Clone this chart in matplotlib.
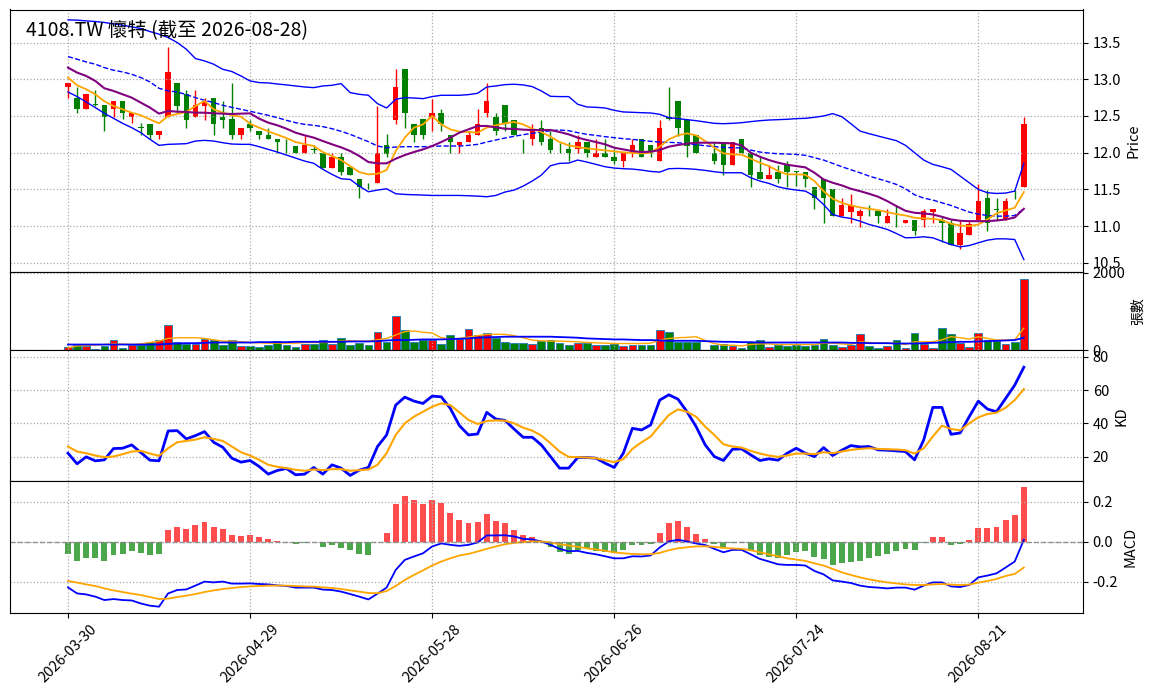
import numpy as np
import pandas as pd
import matplotlib
matplotlib.use("Agg")
import matplotlib.pyplot as plt
from matplotlib.ticker import FormatStrFormatter, FixedLocator

plt.rcParams['font.family'] = ['Noto Sans CJK TC', 'DejaVu Sans']

# trading days (TWSE holidays removed)
holidays = ['2026-04-03', '2026-04-06', '2026-05-01', '2026-06-19']
dates = [d for d in pd.bdate_range('2026-03-30', '2026-08-28')
         if d.strftime('%Y-%m-%d') not in holidays]
date_labels = [d.strftime('%Y-%m-%d') for d in dates]

open_ = [12.90, 12.75, 12.60, 12.66, 12.645, 12.60, 12.70, 12.49, 12.345, 12.395,
         12.24, 12.49, 12.945, 12.795, 12.49, 12.635, 12.75, 12.49, 12.455, 12.24,
         12.395, 12.295, 12.24, 12.19, 12.15, 12.09, 11.99, 12.05, 11.99, 11.79,
         11.945, 11.80, 11.645, 11.545, 11.59, 12.10, 12.445, 13.145, 12.395, 12.455,
         12.49, 12.545, 12.24, 12.10, 12.145, 12.245, 12.545, 12.49, 12.645, 12.445,
         12.19, 12.19, 12.34, 12.19, 12.00, 12.045, 12.045, 12.145, 11.945, 11.99,
         11.945, 11.885, 11.99, 12.19, 12.10, 11.885, 12.49, 12.70, 12.445, 12.245,
         11.995, 11.99, 12.145, 11.835, 12.19, 11.99, 11.74, 11.645, 11.74, 11.835,
         11.745, 11.74, 11.535, 11.645, 11.50, 11.135, 11.19, 11.135, 11.205, 11.20,
         11.045, 11.14, 11.045, 11.09, 11.09, 11.19, 11.09, 11.045, 10.745, 10.885,
         11.08, 11.385, 11.23, 11.08, 11.385, 11.535]
high = [12.95, 12.90, 12.80, 12.85, 12.645, 12.70, 12.70, 12.545, 12.40, 12.395,
        12.30, 13.445, 12.945, 12.85, 12.85, 12.75, 12.75, 12.70, 12.945, 12.34,
        12.445, 12.295, 12.34, 12.19, 12.19, 12.09, 12.235, 12.10, 11.99, 11.99,
        11.99, 11.80, 11.645, 11.59, 12.64, 12.25, 13.145, 13.145, 12.395, 12.455,
        12.73, 12.60, 12.24, 12.145, 12.295, 12.60, 12.945, 12.545, 12.645, 12.445,
        12.19, 12.395, 12.445, 12.295, 12.135, 12.145, 12.245, 12.145, 12.19, 12.19,
        12.045, 11.99, 12.19, 12.19, 12.10, 12.445, 12.90, 12.70, 12.445, 12.245,
        11.995, 12.145, 12.145, 12.145, 12.19, 11.99, 11.945, 11.835, 11.835, 11.885,
        11.745, 11.74, 11.535, 11.645, 11.50, 11.38, 11.44, 11.235, 11.29, 11.20,
        11.235, 11.29, 11.09, 11.09, 11.235, 11.235, 11.135, 11.09, 11.09, 11.09,
        11.57, 11.49, 11.385, 11.385, 11.49, 12.49]
low = [12.75, 12.545, 12.60, 12.64, 12.30, 12.49, 12.455, 12.40, 12.24, 12.19,
       12.19, 12.49, 12.545, 12.34, 12.49, 12.445, 12.24, 12.34, 12.19, 12.19,
       12.295, 12.19, 12.19, 12.00, 11.99, 11.99, 11.99, 11.99, 11.79, 11.79,
       11.69, 11.69, 11.39, 11.50, 11.59, 11.945, 12.395, 12.34, 12.145, 12.19,
       12.295, 12.295, 11.99, 11.99, 12.145, 12.245, 12.49, 12.245, 12.295, 12.245,
       11.99, 12.10, 12.10, 11.99, 11.99, 11.885, 11.99, 11.945, 11.945, 11.945,
       11.84, 11.80, 11.945, 11.945, 11.945, 11.885, 12.445, 12.225, 11.945, 11.99,
       11.99, 11.84, 11.69, 11.835, 11.99, 11.535, 11.645, 11.645, 11.59, 11.535,
       11.545, 11.535, 11.235, 11.045, 11.135, 11.135, 11.045, 10.99, 11.135, 11.045,
       11.045, 10.99, 11.045, 10.885, 10.99, 11.045, 10.79, 10.745, 10.69, 10.885,
       11.08, 10.935, 11.09, 11.08, 11.365, 11.535]
close = [12.945, 12.60, 12.795, 12.65, 12.49, 12.70, 12.545, 12.545, 12.34, 12.24,
         12.295, 13.10, 12.635, 12.445, 12.645, 12.70, 12.395, 12.445, 12.24, 12.34,
         12.34, 12.24, 12.19, 12.145, 12.145, 11.99, 12.10, 12.04, 11.79, 11.945,
         11.735, 11.69, 11.535, 11.54, 11.99, 11.98, 12.90, 12.545, 12.24, 12.24,
         12.545, 12.395, 12.145, 12.145, 12.245, 12.395, 12.70, 12.295, 12.395, 12.245,
         12.185, 12.295, 12.145, 12.035, 11.99, 11.99, 12.145, 11.99, 11.99, 11.945,
         11.885, 11.99, 12.10, 11.945, 11.99, 12.34, 12.455, 12.34, 12.09, 11.99,
         11.99, 11.885, 11.835, 12.145, 11.99, 11.69, 11.645, 11.69, 11.645, 11.74,
         11.74, 11.645, 11.38, 11.38, 11.135, 11.29, 11.29, 11.20, 11.20, 11.135,
         11.135, 11.135, 11.09, 10.935, 11.20, 11.235, 11.045, 10.745, 10.90, 11.035,
         11.345, 11.045, 11.22, 11.345, 11.38, 12.395]

ma5 = [13.023, 12.918, 12.864, 12.795, 12.70, 12.636, 12.591, 12.545, 12.509, 12.455,
       12.40, 12.50, 12.527, 12.555, 12.636, 12.705, 12.591, 12.545, 12.509, 12.491,
       12.395, 12.341, 12.291, 12.245, 12.20, 12.145, 12.118, 12.091, 12.009, 11.955,
       11.90, 11.818, 11.736, 11.705, 11.714, 11.764, 12.023, 12.205, 12.341, 12.386,
       12.50, 12.386, 12.318, 12.286, 12.282, 12.273, 12.341, 12.373, 12.40, 12.418,
       12.386, 12.327, 12.282, 12.218, 12.145, 12.10, 12.077, 12.059, 12.045, 12.032,
       12.018, 12.005, 11.995, 11.991, 12.00, 12.082, 12.182, 12.236, 12.264, 12.236,
       12.159, 12.068, 11.991, 11.977, 11.973, 11.918, 11.864, 11.818, 11.75, 11.705,
       11.705, 11.70, 11.614, 11.477, 11.373, 11.318, 11.282, 11.255, 11.236, 11.218,
       11.191, 11.164, 11.145, 11.114, 11.105, 11.10, 11.082, 11.032, 11.009, 11.00,
       11.023, 11.091, 11.173, 11.214, 11.25, 11.464]
ma10 = [13.159, 13.091, 13.045, 12.977, 12.877, 12.841, 12.795, 12.75, 12.682, 12.614,
        12.532, 12.568, 12.559, 12.555, 12.545, 12.545, 12.536, 12.532, 12.527, 12.532,
        12.536, 12.464, 12.409, 12.373, 12.327, 12.273, 12.236, 12.205, 12.159, 12.114,
        12.073, 12.023, 11.955, 11.873, 11.855, 11.855, 11.918, 11.968, 12.009, 12.045,
        12.091, 12.145, 12.205, 12.273, 12.318, 12.364, 12.364, 12.345, 12.327, 12.323,
        12.314, 12.309, 12.309, 12.309, 12.282, 12.25, 12.205, 12.173, 12.145, 12.114,
        12.068, 12.045, 12.023, 12.009, 12.014, 12.036, 12.082, 12.105, 12.123, 12.136,
        12.136, 12.136, 12.132, 12.127, 12.10, 12.00, 11.945, 11.90, 11.864, 11.836,
        11.818, 11.80, 11.727, 11.636, 11.591, 11.555, 11.509, 11.477, 11.441, 11.40,
        11.341, 11.273, 11.209, 11.182, 11.173, 11.159, 11.127, 11.091, 11.073, 11.068,
        11.068, 11.068, 11.077, 11.091, 11.118, 11.236]
bb_up = [13.809, 13.805, 13.795, 13.786, 13.773, 13.755, 13.736, 13.714, 13.691, 13.65,
         13.614, 13.568, 13.50, 13.409, 13.282, 13.25, 13.205, 13.136, 13.105, 13.045,
         12.977, 12.955, 12.95, 12.936, 12.923, 12.909, 12.895, 12.886, 12.909, 12.918,
         12.941, 12.818, 12.795, 12.782, 12.668, 12.609, 12.727, 12.75, 12.745, 12.736,
         12.764, 12.782, 12.782, 12.782, 12.791, 12.809, 12.895, 12.909, 12.927, 12.932,
         12.923, 12.90, 12.841, 12.768, 12.764, 12.764, 12.659, 12.623, 12.618, 12.609,
         12.577, 12.555, 12.55, 12.545, 12.541, 12.523, 12.477, 12.464, 12.45, 12.436,
         12.418, 12.40, 12.395, 12.40, 12.409, 12.423, 12.436, 12.445, 12.45, 12.455,
         12.464, 12.468, 12.482, 12.50, 12.532, 12.491, 12.395, 12.295, 12.259, 12.227,
         12.195, 12.164, 12.10, 12.00, 11.90, 11.841, 11.809, 11.773, 11.682, 11.591,
         11.50, 11.455, 11.445, 11.45, 11.477, 11.855]
bb_mid = [13.309, 13.273, 13.236, 13.205, 13.159, 13.123, 13.10, 13.068, 13.023, 12.964,
          12.877, 12.841, 12.827, 12.791, 12.75, 12.714, 12.682, 12.645, 12.618, 12.591,
          12.564, 12.536, 12.509, 12.477, 12.441, 12.409, 12.386, 12.373, 12.355, 12.327,
          12.291, 12.25, 12.20, 12.15, 12.091, 12.068, 12.077, 12.082, 12.082, 12.082,
          12.086, 12.091, 12.091, 12.091, 12.10, 12.114, 12.145, 12.173, 12.20, 12.223,
          12.245, 12.264, 12.282, 12.30, 12.309, 12.30, 12.273, 12.25, 12.236, 12.218,
          12.205, 12.191, 12.182, 12.168, 12.155, 12.145, 12.141, 12.136, 12.123, 12.109,
          12.095, 12.082, 12.073, 12.068, 12.064, 12.036, 12.009, 11.995, 11.986, 11.982,
          11.977, 11.964, 11.932, 11.90, 11.855, 11.809, 11.768, 11.727, 11.682, 11.645,
          11.609, 11.568, 11.509, 11.427, 11.382, 11.355, 11.318, 11.282, 11.236, 11.191,
          11.164, 11.145, 11.136, 11.136, 11.145, 11.236]
bb_low = [12.827, 12.764, 12.691, 12.614, 12.536, 12.468, 12.40, 12.341, 12.273, 12.182,
          12.10, 12.114, 12.118, 12.123, 12.159, 12.168, 12.159, 12.136, 12.118, 12.114,
          12.114, 12.082, 12.045, 12.009, 11.968, 11.927, 11.886, 11.855, 11.773, 11.705,
          11.645, 11.636, 11.545, 11.468, 11.491, 11.509, 11.441, 11.432, 11.427, 11.423,
          11.418, 11.418, 11.418, 11.418, 11.414, 11.409, 11.40, 11.418, 11.464, 11.491,
          11.545, 11.614, 11.695, 11.823, 11.855, 11.859, 11.90, 11.873, 11.841, 11.809,
          11.791, 11.782, 11.777, 11.764, 11.745, 11.736, 11.782, 11.786, 11.782, 11.773,
          11.759, 11.741, 11.727, 11.727, 11.727, 11.659, 11.614, 11.582, 11.536, 11.509,
          11.491, 11.477, 11.409, 11.295, 11.159, 11.123, 11.105, 11.068, 11.023, 10.991,
          10.955, 10.90, 10.841, 10.845, 10.855, 10.841, 10.795, 10.75, 10.718, 10.736,
          10.773, 10.809, 10.827, 10.827, 10.818, 10.545]

volume = [88, 131, 114, 44, 114, 254, 61, 131, 131, 219,
          254, 656, 219, 166, 175, 289, 254, 131, 271, 114,
          114, 79, 149, 245, 140, 88, 175, 175, 271, 166,
          324, 131, 184, 131, 481, 219, 893, 525, 219, 254,
          271, 166, 394, 289, 551, 394, 446, 324, 219, 184,
          184, 158, 236, 271, 201, 131, 201, 201, 149, 149,
          175, 123, 149, 149, 131, 534, 481, 219, 219, 219,
          0, 131, 166, 105, 61, 219, 254, 79, 131, 114,
          131, 114, 131, 289, 131, 79, 131, 429, 114, 61,
          114, 254, 61, 455, 166, 61, 586, 429, 184, 79,
          455, 271, 236, 166, 219, 1838]
vol_ma5 = [61, 114, 123, 140, 149, 166, 158, 149, 166, 201,
           236, 306, 324, 324, 324, 306, 271, 236, 236, 219,
           201, 193, 184, 184, 184, 184, 201, 201, 201, 210,
           236, 245, 236, 236, 271, 306, 394, 481, 499, 464,
           446, 324, 289, 306, 341, 376, 411, 411, 411, 376,
           324, 263, 245, 236, 236, 228, 219, 201, 193, 184,
           175, 175, 175, 175, 184, 263, 306, 324, 333, 350,
           254, 175, 131, 131, 114, 149, 166, 166, 149, 149,
           149, 149, 149, 184, 184, 166, 149, 219, 201, 184,
           184, 184, 149, 219, 219, 219, 271, 350, 324, 289,
           350, 306, 263, 263, 271, 569]
vol_ma20 = [149, 149, 149, 149, 149, 149, 149, 149, 149, 149,
            149, 166, 175, 184, 184, 193, 201, 201, 201, 201,
            201, 210, 210, 210, 210, 219, 219, 219, 219, 219,
            219, 228, 228, 228, 236, 254, 263, 263, 271, 280,
            280, 280, 289, 298, 306, 324, 333, 341, 350, 350,
            350, 350, 350, 350, 341, 333, 324, 306, 298, 289,
            280, 280, 271, 263, 263, 254, 245, 245, 245, 245,
            236, 228, 219, 219, 210, 210, 201, 201, 201, 201,
            201, 201, 201, 201, 201, 201, 193, 193, 184, 184,
            184, 175, 175, 175, 184, 193, 201, 210, 219, 219,
            228, 236, 245, 254, 263, 324]

k_line = [22, 15.6, 19.8, 17.4, 18, 24.8, 25, 27, 22.4, 17.8,
          17.4, 35.4, 35.6, 30.6, 32.6, 35, 28.6, 25.6, 19, 16.6,
          17.6, 14, 9.4, 11.6, 12.8, 9, 9.4, 13.4, 9.4, 15,
          13, 8.6, 11.8, 13.4, 26, 33, 51, 55.8, 53.4, 52,
          56.4, 56, 49, 38.6, 33, 33.6, 46.6, 42.6, 41.8, 36.6,
          31.6, 31.6, 27, 20, 13, 13, 19.4, 19.4, 19, 16,
          13.4, 22, 37, 36, 39, 54, 57.2, 54.6, 47, 38,
          27, 20, 17.6, 24.4, 24.6, 21, 17.6, 18.6, 17.8, 22,
          25, 22, 20, 25.4, 20.6, 23.8, 26.6, 25.8, 26, 24,
          23.8, 23.4, 23, 18, 30, 49.6, 49.6, 33.4, 34.2, 44,
          53.4, 48.6, 47, 55, 63, 73.8]
d_line = [26, 23, 22, 20.6, 19.6, 20, 21.4, 23, 23.4, 21.8,
          20.4, 25, 28.6, 29.4, 30.2, 31.6, 30.6, 29.4, 26, 22.6,
          20.6, 18, 15, 13.8, 13, 12, 11.4, 12.2, 11.8, 12.4,
          12.4, 11.4, 11.8, 12.2, 15, 22, 33, 40, 44, 47,
          50, 52, 51, 46.6, 42, 39.6, 41.4, 41.8, 41.6, 40,
          37.4, 35.6, 32.6, 28, 23, 19.8, 19.6, 19.4, 19, 17.8,
          16.6, 18.4, 24.6, 28.6, 32, 38.6, 45, 48.4, 47, 44,
          38, 33, 27.4, 26, 25.4, 23.4, 21.8, 20.6, 19.8, 20.6,
          21.8, 21.8, 21.4, 22.6, 22, 23, 24, 24.6, 25, 24.6,
          24.4, 24.2, 23.8, 21.8, 25, 32, 38.6, 36.6, 35.8, 40,
          43.6, 45.6, 46.4, 49.4, 54, 60.6]

dif = [-0.227, -0.257, -0.262, -0.273, -0.29, -0.285, -0.29, -0.292, -0.307, -0.318,
       -0.323, -0.257, -0.24, -0.237, -0.218, -0.198, -0.202, -0.198, -0.208, -0.208,
       -0.207, -0.21, -0.212, -0.217, -0.22, -0.228, -0.228, -0.228, -0.238, -0.24,
       -0.248, -0.26, -0.273, -0.287, -0.258, -0.228, -0.14, -0.09, -0.073, -0.057,
       -0.023, -0.008, -0.015, -0.02, -0.015, -0.003, 0.032, 0.032, 0.033, 0.027,
       0.015, 0.012, 0.002, -0.015, -0.035, -0.047, -0.045, -0.055, -0.062, -0.072,
       -0.082, -0.082, -0.072, -0.073, -0.068, -0.028, 0.002, 0.01, 0.002, -0.008,
       -0.016, -0.035, -0.052, -0.04, -0.04, -0.062, -0.085, -0.098, -0.112, -0.115,
       -0.115, -0.118, -0.145, -0.162, -0.192, -0.198, -0.205, -0.218, -0.225, -0.228,
       -0.232, -0.228, -0.228, -0.238, -0.218, -0.202, -0.202, -0.222, -0.225, -0.215,
       -0.177, -0.168, -0.157, -0.128, -0.098, 0.01]
dea = [-0.195, -0.203, -0.212, -0.22, -0.232, -0.242, -0.25, -0.258, -0.265, -0.275,
       -0.285, -0.283, -0.275, -0.268, -0.26, -0.25, -0.242, -0.235, -0.23, -0.225,
       -0.222, -0.22, -0.218, -0.218, -0.218, -0.22, -0.222, -0.223, -0.227, -0.23,
       -0.235, -0.242, -0.248, -0.255, -0.256, -0.245, -0.22, -0.19, -0.165, -0.142,
       -0.118, -0.098, -0.082, -0.068, -0.06, -0.048, -0.035, -0.023, -0.012, -0.005,
       -0.002, 0.002, 0.002, -0.003, -0.012, -0.018, -0.025, -0.032, -0.038, -0.045,
       -0.052, -0.057, -0.06, -0.062, -0.062, -0.055, -0.042, -0.032, -0.027, -0.023,
       -0.022, -0.025, -0.03, -0.033, -0.035, -0.042, -0.052, -0.062, -0.072, -0.082,
       -0.088, -0.095, -0.107, -0.118, -0.135, -0.152, -0.165, -0.177, -0.187, -0.195,
       -0.202, -0.207, -0.212, -0.215, -0.215, -0.212, -0.21, -0.213, -0.215, -0.213,
       -0.203, -0.195, -0.185, -0.17, -0.16, -0.128]
macd_hist = [-0.062, -0.093, -0.082, -0.082, -0.093, -0.068, -0.062, -0.048, -0.058, -0.068,
             -0.062, 0.057, 0.072, 0.062, 0.082, 0.097, 0.072, 0.062, 0.032, 0.027,
             0.032, 0.022, 0.012, 0.002, -0.002, -0.012, -0.007, -0.002, -0.027, -0.017,
             -0.032, -0.043, -0.062, -0.068, -0.002, 0.043, 0.187, 0.227, 0.207, 0.187,
             0.207, 0.192, 0.142, 0.107, 0.092, 0.097, 0.137, 0.102, 0.092, 0.057,
             0.032, 0.022, 0.0, -0.025, -0.052, -0.062, -0.043, -0.032, -0.048, -0.052,
             -0.055, -0.042, -0.015, -0.015, -0.01, 0.043, 0.092, 0.102, 0.072, 0.038,
             0.012, -0.012, -0.027, -0.007, -0.007, -0.045, -0.068, -0.078, -0.082, -0.068,
             -0.052, -0.048, -0.078, -0.087, -0.115, -0.107, -0.098, -0.093, -0.082, -0.073,
             -0.062, -0.048, -0.037, -0.043, -0.007, 0.022, 0.022, -0.017, -0.012, 0.007,
             0.067, 0.067, 0.072, 0.107, 0.132, 0.272]

x = np.arange(len(dates))
o = np.array(open_)
c = np.array(close)
up = c >= o
candle_col = np.where(up, 'red', 'green')

fig = plt.figure(figsize=(11.56, 6.98), dpi=100)
gs = fig.add_gridspec(4, 1, height_ratios=[4, 1.2, 2, 2], hspace=0,
                      left=10 / 1156, right=1083 / 1156,
                      top=1 - 9.5 / 698, bottom=1 - 612.5 / 698)
ax1 = fig.add_subplot(gs[0])
ax2 = fig.add_subplot(gs[1], sharex=ax1)
ax3 = fig.add_subplot(gs[2], sharex=ax1)
ax4 = fig.add_subplot(gs[3], sharex=ax1)

# price panel
ax1.vlines(x, low, high, colors=candle_col, linewidth=1)
body = np.maximum(np.abs(c - o), 0.006)
ax1.bar(x, body, bottom=np.minimum(o, c), width=0.6, color=candle_col)
ax1.plot(x, bb_up, color='blue', lw=1)
ax1.plot(x, bb_mid, color='blue', lw=1, ls='--')
ax1.plot(x, bb_low, color='blue', lw=1)
ax1.plot(x, ma5, color='orange', lw=1.3)
ax1.plot(x, ma10, color='purple', lw=1.5)
ax1.set_ylim(10.38, 13.95)
ax1.yaxis.set_major_locator(FixedLocator([10.5, 11.0, 11.5, 12.0, 12.5, 13.0, 13.5]))
ax1.yaxis.set_major_formatter(FormatStrFormatter('%.1f'))
ax1.set_ylabel('Price', fontsize=10.5)
ax1.text(0.015, 0.96, '4108.TW 懷特 (截至 2026-08-28)', transform=ax1.transAxes,
         fontsize=14, va='top', ha='left')

# volume panel
ax2.bar(x, volume, width=0.85, color=candle_col, edgecolor='#2f7fb0', linewidth=0.7)
ax2.plot(x, vol_ma5, color='orange', lw=1)
ax2.plot(x, vol_ma20, color='blue', lw=1.3)
ax2.set_ylim(0, max(volume) * 1.1)
ax2.yaxis.set_major_locator(FixedLocator([0, 2000]))
ax2.set_ylabel('張數', fontsize=10)

# KD panel
ax3.plot(x, k_line, color='blue', lw=2)
ax3.plot(x, d_line, color='orange', lw=1.5)
ax3.set_ylim(5, 84)
ax3.yaxis.set_major_locator(FixedLocator([20, 40, 60, 80]))
ax3.set_ylabel('KD', fontsize=10.5)

# MACD panel
hist = np.array(macd_hist)
ax4.bar(x, hist, width=0.65, color=np.where(hist >= 0, 'red', 'green'), alpha=0.7)
ax4.plot(x, dif, color='blue', lw=1.3)
ax4.plot(x, dea, color='orange', lw=1.3)
ax4.axhline(0, color='gray', lw=1, ls='--', alpha=0.8)
ax4.set_ylim(-0.352, 0.301)
ax4.yaxis.set_major_locator(FixedLocator([-0.2, 0.0, 0.2]))
ax4.yaxis.set_major_formatter(FormatStrFormatter('%.1f'))
ax4.set_ylabel('MACD', fontsize=10.5)

tick_idx = list(range(0, len(dates), 20))
for ax in (ax1, ax2, ax3, ax4):
    ax.yaxis.tick_right()
    ax.yaxis.set_label_position('right')
    ax.grid(True, linestyle=':', color='#aaaaaa', linewidth=0.9)
    ax.tick_params(axis='both', labelsize=10.5)
ax1.set_xlim(-6.37, 111.5)
ax4.set_xticks(tick_idx)
ax4.set_xticklabels([date_labels[i] for i in tick_idx], rotation=45, ha='center')
for ax in (ax1, ax2, ax3):
    plt.setp(ax.get_xticklabels(), visible=False)

fig.savefig('out.png', dpi=100)
